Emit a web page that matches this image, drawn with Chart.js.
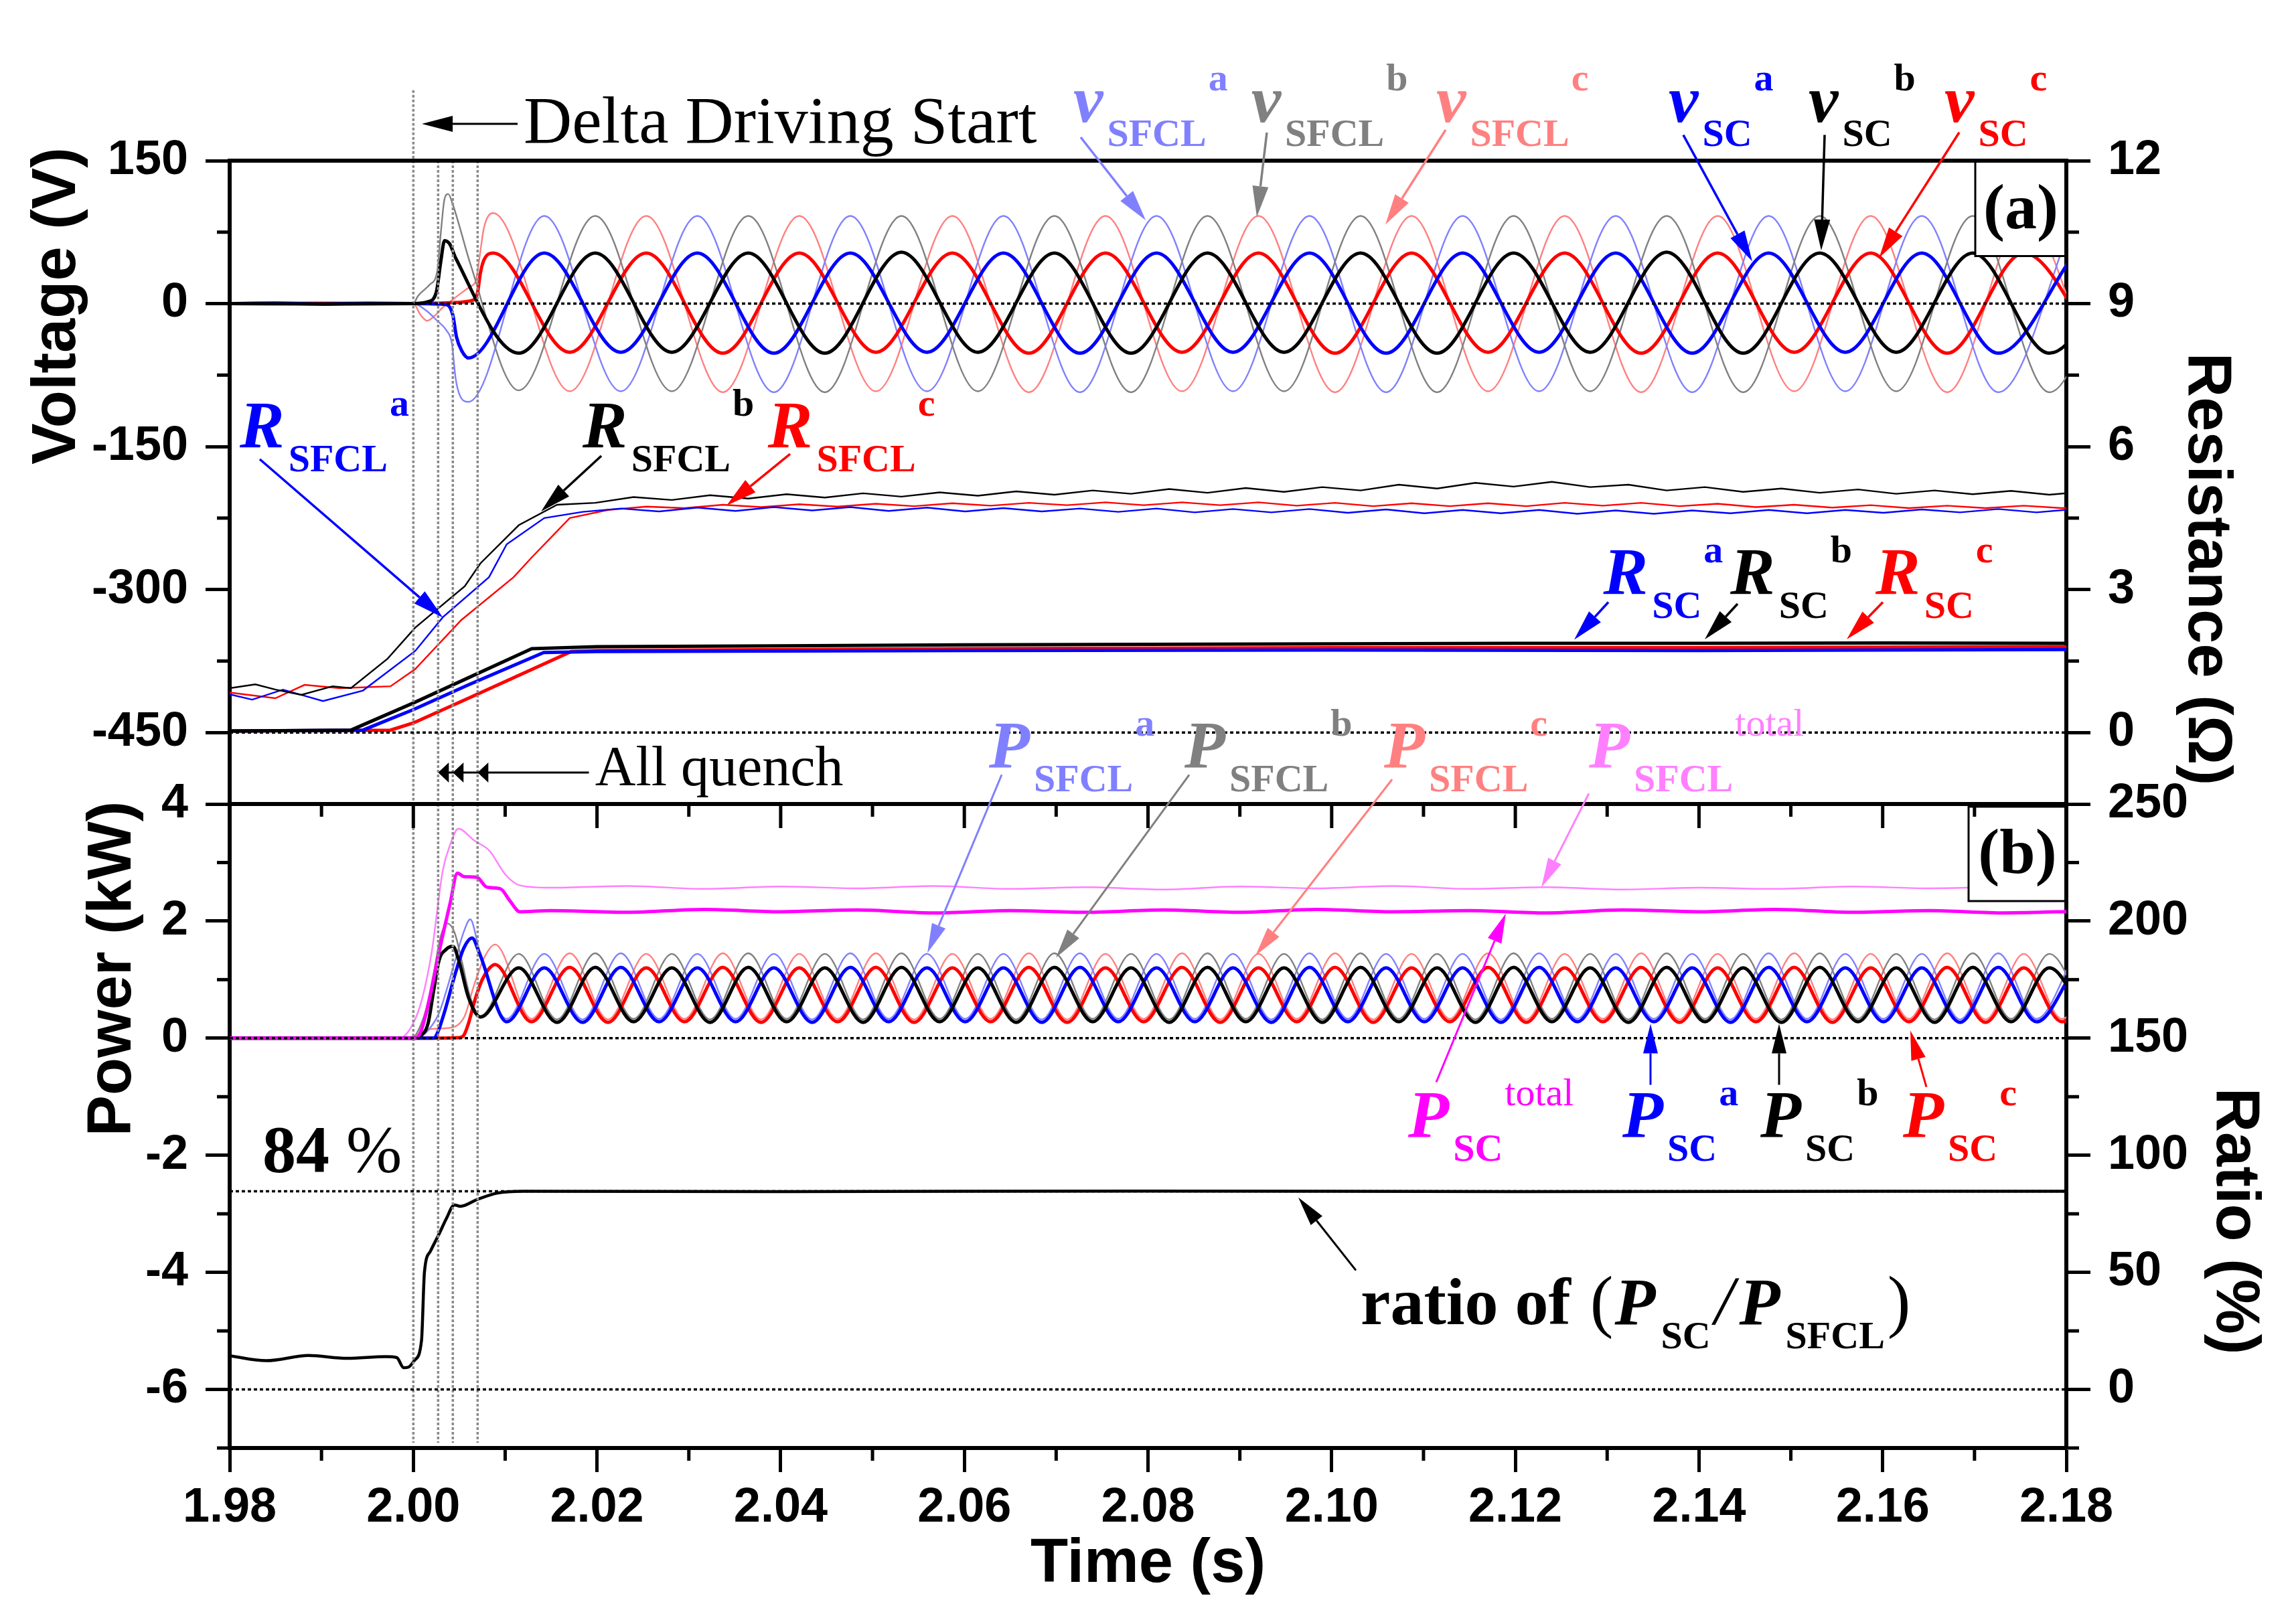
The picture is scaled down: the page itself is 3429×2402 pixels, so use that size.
<!DOCTYPE html>
<html>
<head>
<meta charset="utf-8">
<title>SFCL delta driving</title>
<script src="https://cdn.jsdelivr.net/npm/chart.js@4.4.1/dist/chart.umd.min.js"></script>
<style>
  html, body { margin: 0; padding: 0; background: #fff; }
  #wrap { position: relative; width: 3429px; height: 2402px; }
  canvas { position: absolute; left: 0; top: 0; }
</style>
</head>
<body>
<div id="wrap">
  <canvas id="chartA" width="3429" height="2402"></canvas>
  <canvas id="chartB" width="3429" height="2402"></canvas>
</div>
<script>
// ---------- axes ----------
const timeTicks = [1.98, 2.00, 2.02, 2.04, 2.06, 2.08, 2.10, 2.12, 2.14, 2.16, 2.18];
const timeMinor = [1.99, 2.01, 2.03, 2.05, 2.07, 2.09, 2.11, 2.13, 2.15, 2.17];
const voltTicks = [150, 0, -150, -300, -450];
const voltMinor = [75, -75, -225, -375];
const resTicks = [12, 9, 6, 3, 0];
const resMinor = [10.5, 7.5, 4.5, 1.5];
const powerTicks = [4, 2, 0, -2, -4, -6];
const powerMinor = [3, 1, -1, -3, -5, -7];
const ratioTicks = [250, 200, 150, 100, 50, 0];
const ratioMinor = [225, 175, 125, 75, 25, -25];

// driving start + quench instants (s), reference levels
const markerTimes = [2.0000, 2.0027, 2.0043, 2.0070];
const markerTopV = [224, 150, 150, 150];
const refTimes = [1.98, 2.18];
const voltRefs = [0, -450];
const powerRefs = [0, -6];
const ratioRef = 84.6;

// ---------- voltage (V): extremes, half a period apart ----------
const tVa = [2.00600, 2.01426, 2.02259, 2.03093, 2.03926, 2.04759, 2.05593, 2.06426, 2.07259, 2.08093, 2.08926,
             2.09759, 2.10593, 2.11426, 2.12259, 2.13093, 2.13926, 2.14759, 2.15593, 2.16426, 2.17259, 2.18093];
const tVb = [2.01148, 2.01981, 2.02815, 2.03648, 2.04481, 2.05315, 2.06148, 2.06981, 2.07815, 2.08648, 2.09481,
             2.10315, 2.11148, 2.11981, 2.12815, 2.13648, 2.14481, 2.15315, 2.16148, 2.16981, 2.17815, 2.18648];
const tVc = [2.00870, 2.01703, 2.02537, 2.03370, 2.04203, 2.05037, 2.05870, 2.06703, 2.07537, 2.08370, 2.09203,
             2.10037, 2.10870, 2.11703, 2.12537, 2.13370, 2.14203, 2.15037, 2.15870, 2.16703, 2.17537, 2.18370];
const vScA   = [-57, 53, -51, 53, -52, 53, -51, 53, -52, 53, -51, 53, -52, 53, -51, 53, -52, 53, -51, 53, -52, 53];
const vSfclA = [-103, 92, -92, 92, -93, 92, -92, 92, -93, 92, -92, 92, -93, 92, -92, 92, -93, 92, -92, 92, -93, 92];
const vScB   = [-52, 53, -51, 53, -52, 54, -51, 53, -52, 53, -51, 53, -52, 53, -51, 54, -52, 53, -51, 53, -52, 53];
const vSfclB = [-91, 92, -92, 92, -93, 92, -92, 92, -93, 92, -92, 92, -93, 92, -92, 92, -93, 92, -92, 92, -93, 92];
const vScC   = [53, -51, 53, -52, 53, -51, 53, -52, 53, -51, 53, -52, 53, -51, 53, -52, 53, -51, 53, -52, 53, -51];
const vSfclC = [95, -92, 92, -93, 92, -92, 92, -93, 92, -92, 92, -93, 92, -92, 92, -93, 92, -92, 92, -93, 92, -92];
// start-up part
const vScA0_t = [1.98, 1.985, 1.99, 1.995, 2.0, 2.0036, 2.0043, 2.0047, 2.0053];
const vScA0   = [0, 0.5, -0.4, 0.4, 0, -1, -12, -35, -50];
const vSfclA0_t = [1.98, 1.99, 2.0, 2.0015, 2.0026, 2.0036, 2.0042, 2.0046, 2.0051];
const vSfclA0   = [0, 0.6, 0, -8, -18, -28, -42, -78, -97];
const vScB0_t = [1.98, 1.99, 2.0, 2.0016, 2.0025, 2.0030, 2.0034, 2.0040, 2.0046];
const vScB0   = [0, -0.4, 0, 2, 12, 45, 66, 62, 48];
const vSfclB0_t = [1.98, 1.99, 2.0, 2.0005, 2.0018, 2.0026, 2.0030, 2.0034, 2.0038, 2.0043, 2.0050, 2.0062];
const vSfclB0   = [0, 0.6, 0, 8, 20, 34, 75, 110, 115, 104, 82, 42];
const vScC0_t = [1.98, 1.99, 2.0, 2.004, 2.0066, 2.0070, 2.0073, 2.0077];
const vScC0   = [0, 0.4, 0, 1, 4, 12, 32, 46];
const vSfclC0_t = [1.98, 1.99, 2.0, 2.0008, 2.0015, 2.0024, 2.0032, 2.0040, 2.0052, 2.0062, 2.0068, 2.0072, 2.0077];
const vSfclC0   = [0, -0.5, 0, -12, -18, -12, -4, 2, 11, 18, 24, 48, 80];

// ---------- power (kW): extremes, quarter of a period apart ----------
const tPa = [2.01017, 2.01426, 2.01843, 2.02259, 2.02676, 2.03093, 2.03509, 2.03926, 2.04343, 2.04759, 2.05176,
             2.05593, 2.06009, 2.06426, 2.06843, 2.07259, 2.07676, 2.08093, 2.08509, 2.08926, 2.09343, 2.09759,
             2.10176, 2.10593, 2.11009, 2.11426, 2.11843, 2.12259, 2.12676, 2.13093, 2.13509, 2.13926, 2.14343,
             2.14759, 2.15176, 2.15593, 2.16009, 2.16426, 2.16843, 2.17259, 2.17676, 2.18093];
const tPb = [2.00731, 2.01148, 2.01565, 2.01981, 2.02398, 2.02815, 2.03231, 2.03648, 2.04065, 2.04481, 2.04898,
             2.05315, 2.05731, 2.06148, 2.06565, 2.06981, 2.07398, 2.07815, 2.08231, 2.08648, 2.09065, 2.09481,
             2.09898, 2.10315, 2.10731, 2.11148, 2.11565, 2.11981, 2.12398, 2.12815, 2.13231, 2.13648, 2.14065,
             2.14481, 2.14898, 2.15315, 2.15731, 2.16148, 2.16565, 2.16981, 2.17398, 2.17815, 2.18231];
const tPc = [2.01287, 2.01703, 2.02120, 2.02537, 2.02953, 2.03370, 2.03787, 2.04203, 2.04620, 2.05037, 2.05453,
             2.05870, 2.06287, 2.06703, 2.07120, 2.07537, 2.07953, 2.08370, 2.08787, 2.09203, 2.09620, 2.10037,
             2.10453, 2.10870, 2.11287, 2.11703, 2.12120, 2.12537, 2.12953, 2.13370, 2.13787, 2.14203, 2.14620,
             2.15037, 2.15453, 2.15870, 2.16287, 2.16703, 2.17120, 2.17537, 2.17953, 2.18370];
const pScA = [0.28, 1.20, 0.27, 1.21, 0.28, 1.20, 0.28, 1.20, 0.27, 1.21, 0.28, 1.20, 0.28, 1.20, 0.27, 1.21, 0.28, 1.20,
              0.28, 1.20, 0.27, 1.21, 0.28, 1.20, 0.28, 1.20, 0.27, 1.21, 0.28, 1.20, 0.28, 1.20, 0.27, 1.21, 0.28, 1.20,
              0.28, 1.20, 0.27, 1.21, 0.28, 1.20];
const pSfclA = [0.33, 1.44, 0.32, 1.45, 0.33, 1.44, 0.33, 1.44, 0.32, 1.45, 0.33, 1.44, 0.33, 1.44, 0.32, 1.45, 0.33, 1.44,
                0.33, 1.44, 0.32, 1.45, 0.33, 1.44, 0.33, 1.44, 0.32, 1.45, 0.33, 1.44, 0.33, 1.44, 0.32, 1.45, 0.33, 1.44,
                0.33, 1.44, 0.32, 1.45, 0.33, 1.44];
const pScB = [0.36, 1.20, 0.27, 1.21, 0.28, 1.20, 0.27, 1.21, 0.28, 1.20, 0.27, 1.21, 0.28, 1.20, 0.27, 1.21, 0.28, 1.20,
              0.27, 1.21, 0.28, 1.20, 0.27, 1.21, 0.28, 1.20, 0.27, 1.21, 0.28, 1.20, 0.27, 1.21, 0.28, 1.20, 0.27, 1.21,
              0.28, 1.20, 0.27, 1.21, 0.28, 1.20, 0.27];
const pSfclB = [0.38, 1.44, 0.32, 1.45, 0.33, 1.44, 0.32, 1.45, 0.33, 1.44, 0.32, 1.45, 0.33, 1.44, 0.32, 1.45, 0.33, 1.44,
                0.32, 1.45, 0.33, 1.44, 0.32, 1.45, 0.33, 1.44, 0.32, 1.45, 0.33, 1.44, 0.32, 1.45, 0.33, 1.44, 0.32, 1.45,
                0.33, 1.44, 0.32, 1.45, 0.33, 1.44, 0.32];
const pScC = [0.28, 1.21, 0.27, 1.20, 0.28, 1.21, 0.27, 1.20, 0.28, 1.21, 0.27, 1.20, 0.28, 1.21, 0.27, 1.20, 0.28, 1.21,
              0.27, 1.20, 0.28, 1.21, 0.27, 1.20, 0.28, 1.21, 0.27, 1.20, 0.28, 1.21, 0.27, 1.20, 0.28, 1.21, 0.27, 1.20,
              0.28, 1.21, 0.27, 1.20, 0.28, 1.21];
const pSfclC = [0.33, 1.45, 0.32, 1.44, 0.33, 1.45, 0.32, 1.44, 0.33, 1.45, 0.32, 1.44, 0.33, 1.45, 0.32, 1.44, 0.33, 1.45,
                0.32, 1.44, 0.33, 1.45, 0.32, 1.44, 0.33, 1.45, 0.32, 1.44, 0.33, 1.45, 0.32, 1.44, 0.33, 1.45, 0.32, 1.44,
                0.33, 1.45, 0.32, 1.44, 0.33, 1.45];
const pScA0_t = [1.98, 2.0, 2.0022, 2.0026, 2.0034, 2.0046, 2.0055, 2.0064, 2.0072];
const pScA0   = [0, 0, 0, 0.08, 0.45, 1.12, 1.54, 1.71, 1.45];
const pSfclA0_t = [1.98, 2.0, 2.0010, 2.0017, 2.0028, 2.0044, 2.0055, 2.0062, 2.0072];
const pSfclA0   = [0, 0, 0.05, 0.15, 0.43, 1.24, 1.82, 2.03, 1.5];
const pScB0_t = [1.98, 2.0, 2.0008, 2.0016, 2.0022, 2.0028, 2.0036, 2.0043, 2.0050, 2.0060];
const pScB0   = [0, 0, 0.04, 0.25, 0.8, 1.33, 1.52, 1.57, 1.3, 0.7];
const pSfclB0_t = [1.98, 2.0, 2.0005, 2.0014, 2.0022, 2.0030, 2.0037, 2.0045, 2.0053, 2.0062];
const pSfclB0   = [0, 0.02, 0.12, 0.5, 1.1, 1.75, 1.96, 1.8, 1.3, 0.7];
const pScC0_t = [1.98, 2.0, 2.0050, 2.0055, 2.0060, 2.0067, 2.0075, 2.0082, 2.0089];
const pScC0   = [0, 0, 0.01, 0.05, 0.25, 0.65, 1.0, 1.18, 1.26];
const pSfclC0_t = [1.98, 2.0, 2.0006, 2.0015, 2.0035, 2.0048, 2.0056, 2.0066, 2.0078, 2.0089];
const pSfclC0   = [0, 0, 0.08, 0.15, 0.17, 0.22, 0.38, 0.9, 1.4, 1.6];

// totals
const tTot = [2.0150, 2.0233, 2.0317, 2.0400, 2.0483, 2.0567, 2.0650, 2.0733, 2.0817, 2.0900, 2.0983,
              2.1067, 2.1150, 2.1233, 2.1317, 2.1400, 2.1483, 2.1567, 2.1650, 2.1733, 2.1817];
const pScTot0_t = [1.98, 2.0003, 2.0009, 2.0018, 2.0028, 2.0040, 2.0048, 2.0055, 2.0069, 2.0080, 2.0095, 2.0105, 2.0116];
const pScTot0   = [0, 0, 0.15, 0.7, 1.47, 2.3, 2.82, 2.76, 2.75, 2.58, 2.55, 2.35, 2.16];
const pScTot = [2.18, 2.15, 2.20, 2.16, 2.19, 2.14, 2.18, 2.15, 2.19, 2.15, 2.20,
                2.16, 2.18, 2.14, 2.19, 2.16, 2.20, 2.15, 2.18, 2.14, 2.17];
const pSfclTot0_t = [1.98, 1.9985, 2.0001, 2.0010, 2.0020, 2.0032, 2.0040, 2.0049, 2.0066, 2.0083, 2.0100, 2.0116];
const pSfclTot0   = [0, 0, 0.29, 0.7, 1.47, 2.86, 3.3, 3.58, 3.38, 3.2, 2.8, 2.61];
const pSfclTot = [2.57, 2.60, 2.55, 2.59, 2.56, 2.60, 2.55, 2.58, 2.54, 2.59, 2.56,
                  2.60, 2.55, 2.58, 2.54, 2.57, 2.55, 2.59, 2.56, 2.58, 2.55];

// ratio P_SC / P_SFCL (%)
const ratioT = [1.98, 1.9840, 1.9886, 1.9928, 1.9970, 1.9982, 1.99894, 1.9995, 2.00014, 2.00089, 2.00121, 2.00186,
                2.00284, 2.0036, 2.00447, 2.00512, 2.0070, 2.0091, 2.0120, 2.0400, 2.0800, 2.1200, 2.1600, 2.1800];
const ratioV = [14.4, 12.3, 14.5, 13.3, 14.0, 13.6, 9.3, 9.6, 12.5, 20.8, 50.1, 59.0,
                66.7, 73.0, 78.8, 78.2, 81.2, 83.8, 84.6, 84.5, 84.7, 84.5, 84.6, 84.6];

// ---------- resistance (ohm) ----------
const rScA_t = [1.98, 1.9945, 2.0000, 2.0060, 2.0142, 2.0200, 2.0600, 2.1000, 2.1400, 2.1800];
const rScA   = [0.03, 0.05, 0.48, 1.00, 1.68, 1.70, 1.72, 1.73, 1.72, 1.74];
const rScB_t = [1.98, 1.9932, 2.0000, 2.0060, 2.0129, 2.0200, 2.0400, 2.0600, 2.0800, 2.1000, 2.1200, 2.1400, 2.1600, 2.1800];
const rScB   = [0.03, 0.05, 0.62, 1.15, 1.76, 1.80, 1.82, 1.84, 1.85, 1.86, 1.87, 1.87, 1.88, 1.87];
const rScC_t = [1.98, 1.9975, 2.0000, 2.0060, 2.0172, 2.0200, 2.0600, 2.1000, 2.1400, 2.1800];
const rScC   = [0.03, 0.05, 0.20, 0.72, 1.70, 1.72, 1.76, 1.78, 1.78, 1.80];
const rSfclA0_t = [1.98, 1.98246, 1.9858, 1.99016, 1.99451, 2.0002, 2.00322, 2.00824];
const rSfclA0   = [0.80, 0.69, 0.90, 0.66, 0.88, 1.71, 2.42, 3.26];
const rSfclA = [3.95, 4.50, 4.63, 4.70, 4.64, 4.72, 4.65, 4.73, 4.66, 4.73, 4.65, 4.72, 4.64, 4.71, 4.64, 4.70, 4.63, 4.70,
                4.62, 4.69, 4.62, 4.69, 4.61, 4.68, 4.60, 4.67, 4.60, 4.67, 4.59, 4.66, 4.59, 4.66, 4.60, 4.67, 4.60, 4.67,
                4.61, 4.68, 4.62, 4.69, 4.62, 4.69];
const rSfclB0_t = [1.98, 1.9828, 1.9850, 1.9878, 1.9912, 1.9932, 1.9972, 2.0002, 2.0056];
const rSfclB0   = [0.93, 1.01, 0.90, 0.79, 0.97, 0.93, 1.55, 2.20, 3.07];
const rSfclB = [3.55, 4.35, 4.78, 4.82, 4.94, 4.88, 4.98, 4.91, 5.00, 4.93, 5.02, 4.95, 5.04, 4.97, 5.06, 4.99, 5.08, 5.01,
                5.11, 5.03, 5.13, 5.05, 5.15, 5.08, 5.20, 5.12, 5.24, 5.16, 5.26, 5.15, 5.20, 5.08, 5.15, 5.05, 5.12, 5.03,
                5.10, 5.01, 5.08, 5.00, 5.07, 4.99, 5.06];
const rSfclC0_t = [1.98, 1.98497, 1.98815, 1.9920, 1.99752, 2.0002, 2.00522, 2.01092];
const rSfclC0   = [0.84, 0.72, 1.00, 0.93, 0.97, 1.33, 2.36, 3.26];
const rSfclC = [3.67, 4.50, 4.67, 4.74, 4.71, 4.78, 4.73, 4.79, 4.74, 4.80, 4.75, 4.81, 4.76, 4.82, 4.77, 4.83, 4.77, 4.83,
                4.77, 4.83, 4.76, 4.82, 4.75, 4.81, 4.75, 4.81, 4.75, 4.82, 4.76, 4.82, 4.75, 4.80, 4.73, 4.78, 4.72, 4.77,
                4.71, 4.76, 4.71, 4.76, 4.71, 4.76];

// ---------- styles ----------
const BLUE = '#0000ff', BLACK = '#000000', RED = '#ff0000', MAG = '#ff00ff';
const LBLUE = '#8080ff', GRAY = '#808080', LRED = '#ff8080', LMAG = '#ff80ff';
const THIN = 2.4, THICK = 5;
const SERIF = "'Liberation Serif', 'Times New Roman', serif";
const SANS = "'Liberation Sans', Arial, sans-serif";
const tickFont = { family: SANS, size: 72, weight: 'bold' };

function pts(ts, vs) { return ts.map((t, i) => ({ x: t, y: vs[i] })); }
function join(t0, v0, t1, v1) { return pts(t0, v0).concat(pts(t1, v1)); }

function trace(data, color, width, axis, order, smooth) {
  return { data, borderColor: color, borderWidth: width, yAxisID: axis, order,
    pointRadius: 0, fill: false, tension: 0, cubicInterpolationMode: smooth ? 'monotone' : 'default' };
}
function dotted(data, color, axis, dash, width) {
  return { data, borderColor: color, borderWidth: width, borderDash: dash, yAxisID: axis, order: 0,
    pointRadius: 0, fill: false, tension: 0, clip: false };
}

function yAxis(pos, min, max, ticks) {
  return {
    type: 'linear', position: pos, min, max,
    afterBuildTicks: s => { s.ticks = ticks.map(v => ({ value: v })); },
    afterFit: s => { s.width = 343; },
    ticks: { font: tickFont, color: '#000', padding: 26, autoSkip: false, callback: v => String(v) },
    grid: { drawOnChartArea: false, tickLength: 36, tickWidth: 5, tickColor: '#000' },
    border: { display: true, color: '#000', width: 6 }
  };
}

function seg(ctx, x1, y1, x2, y2) { ctx.beginPath(); ctx.moveTo(x1, y1); ctx.lineTo(x2, y2); ctx.stroke(); }

function arrow(ctx, x1, y1, x2, y2, color, lw, hl, hw) {
  const a = Math.atan2(y2 - y1, x2 - x1);
  const bx = x2 - hl * Math.cos(a), by = y2 - hl * Math.sin(a);
  ctx.strokeStyle = color; ctx.fillStyle = color; ctx.lineWidth = lw;
  seg(ctx, x1, y1, bx, by);
  ctx.beginPath();
  ctx.moveTo(x2, y2);
  ctx.lineTo(bx + hw * Math.sin(a), by - hw * Math.cos(a));
  ctx.lineTo(bx - hw * Math.sin(a), by + hw * Math.cos(a));
  ctx.closePath(); ctx.fill();
}

function label(ctx, x, y, l) {
  ctx.fillStyle = l.c;
  ctx.textAlign = 'left'; ctx.textBaseline = 'alphabetic';
  ctx.font = 'italic bold 100px ' + SERIF;
  ctx.fillText(l.m, x, y);
  let cx = x + ctx.measureText(l.m).width + 6;
  ctx.font = 'bold 58px ' + SERIF;
  ctx.fillText(l.sub, cx, y + 36);
  cx += ctx.measureText(l.sub).width + 3;
  ctx.font = (l.sup === 'total' ? '' : 'bold ') + '58px ' + SERIF;
  ctx.fillText(l.sup, cx, y - 47);
}

function rotText(ctx, text, x, y, ang) {
  ctx.save();
  ctx.translate(x, y); ctx.rotate(ang);
  ctx.fillStyle = '#000'; ctx.font = 'bold 92px ' + SANS;
  ctx.textAlign = 'center'; ctx.textBaseline = 'middle';
  ctx.fillText(text, 0, 0);
  ctx.restore();
}

function panelTag(ctx, text, x, y, w, h) {
  ctx.fillStyle = '#fff';
  ctx.fillRect(x, y, w, h);
  ctx.strokeStyle = '#000'; ctx.lineWidth = 3;
  ctx.strokeRect(x, y, w, h);
  ctx.fillStyle = '#000'; ctx.font = 'bold 96px ' + SERIF;
  ctx.textAlign = 'center'; ctx.textBaseline = 'middle';
  ctx.fillText(text, x + w / 2, y + h / 2 + 4);
}

// ---------- annotations ----------
const labelsA = [
  { m: 'v', sub: 'SFCL', sup: 'a', c: LBLUE, t: 2.07187, v: 190.8 },
  { m: 'v', sub: 'SFCL', sup: 'b', c: GRAY, t: 2.09124, v: 190.8 },
  { m: 'v', sub: 'SFCL', sup: 'c', c: LRED, t: 2.11139, v: 190.8 },
  { m: 'v', sub: 'SC', sup: 'a', c: BLUE, t: 2.13669, v: 190.8 },
  { m: 'v', sub: 'SC', sup: 'b', c: BLACK, t: 2.15193, v: 190.8 },
  { m: 'v', sub: 'SC', sup: 'c', c: RED, t: 2.16673, v: 190.8 },
  { m: 'R', sub: 'SFCL', sup: 'a', c: BLUE, t: 1.98109, v: -150.3 },
  { m: 'R', sub: 'SFCL', sup: 'b', c: BLACK, t: 2.01843, v: -150.3 },
  { m: 'R', sub: 'SFCL', sup: 'c', c: RED, t: 2.03860, v: -150.8 },
  { m: 'R', sub: 'SC', sup: 'a', c: BLUE, t: 2.12958, v: -304.1 },
  { m: 'R', sub: 'SC', sup: 'b', c: BLACK, t: 2.14340, v: -304.1 },
  { m: 'R', sub: 'SC', sup: 'c', c: RED, t: 2.15922, v: -304.1 }
];
const arrowsA = [
  [2.07267, 174.6, 2.07975, 87.5, LBLUE],
  [2.09294, 179.5, 2.09185, 91.0, GRAY],
  [2.11241, 182.3, 2.10585, 83.0, LRED],
  [2.13829, 177.0, 2.14580, 44.3, BLUE],
  [2.15368, 177.0, 2.15331, 55.9, BLACK],
  [2.16834, 179.7, 2.15962, 48.2, RED],
  [1.98328, -163.3, 2.00322, -329.3, BLUE],
  [2.02047, -159.7, 2.01391, -218.0, BLACK],
  [2.04103, -157.8, 2.03410, -211.9, RED],
  [2.13013, -313.2, 2.12641, -352.5, BLUE],
  [2.14420, -315.0, 2.14063, -352.2, BLACK],
  [2.16002, -313.2, 2.15609, -352.2, RED]
];
const labelsB = [
  { m: 'P', sub: 'SFCL', sup: 'a', c: LBLUE, t: 2.06268, v: 4.629 },
  { m: 'P', sub: 'SFCL', sup: 'b', c: GRAY, t: 2.08397, v: 4.629 },
  { m: 'P', sub: 'SFCL', sup: 'c', c: LRED, t: 2.10570, v: 4.629 },
  { m: 'P', sub: 'SFCL', sup: 'total', c: LMAG, t: 2.12801, v: 4.629 },
  { m: 'P', sub: 'SC', sup: 'total', c: MAG, t: 2.10833, v: -1.678 },
  { m: 'P', sub: 'SC', sup: 'a', c: BLUE, t: 2.13166, v: -1.678 },
  { m: 'P', sub: 'SC', sup: 'b', c: BLACK, t: 2.14668, v: -1.678 },
  { m: 'P', sub: 'SC', sup: 'c', c: RED, t: 2.16221, v: -1.678 }
];
const arrowsB = [
  [2.06407, 4.50, 2.05598, 1.456, LBLUE],
  [2.08449, 4.50, 2.06998, 1.376, GRAY],
  [2.10658, 4.42, 2.09170, 1.41, LRED],
  [2.12801, 4.18, 2.12284, 2.577, LMAG],
  [2.11139, -0.751, 2.11897, 2.13, MAG],
  [2.13472, -0.797, 2.13472, 0.244, BLUE],
  [2.14872, -0.797, 2.14872, 0.244, BLACK],
  [2.16476, -0.832, 2.16301, 0.13, RED],
  [2.10264, -3.966, 2.09637, -2.72, BLACK]
];

const annotA = {
  id: 'annotA',
  afterDraw(chart) {
    const { ctx, chartArea: a, scales: { x, yV, yR } } = chart;
    const px = t => x.getPixelForValue(t), pv = v => yV.getPixelForValue(v);
    ctx.save();
    ctx.lineCap = 'butt';

    panelTag(ctx, '(a)', a.right - 136, a.top + 1.5, 136, 141);

    ctx.strokeStyle = '#000'; ctx.lineWidth = 6;
    seg(ctx, a.left - 3, a.top, a.right + 3, a.top);
    seg(ctx, a.right, a.top, a.right, a.top + 150);
    ctx.lineWidth = 5;
    voltMinor.forEach(v => seg(ctx, a.left - 19, pv(v), a.left, pv(v)));
    resMinor.forEach(r => { const y = yR.getPixelForValue(r); seg(ctx, a.right, y, a.right + 19, y); });

    arrowsA.forEach(r => arrow(ctx, px(r[0]), pv(r[1]), px(r[2]), pv(r[3]), r[4], 3.5, 46, 12));
    labelsA.forEach(l => label(ctx, px(l.t), pv(l.v), l));

    // Delta Driving Start
    arrow(ctx, px(2.01135), pv(188.7), px(2.00093), pv(188.7), '#000', 3, 46, 12);
    ctx.fillStyle = '#000'; ctx.textAlign = 'left'; ctx.textBaseline = 'alphabetic';
    ctx.font = '100px ' + SERIF;
    ctx.fillText('Delta Driving Start', px(2.01201), pv(169.2));

    // All quench
    const yq = pv(-492);
    ctx.strokeStyle = '#000'; ctx.lineWidth = 3;
    seg(ctx, px(markerTimes[1]) + 10, yq, px(2.01912), yq);
    markerTimes.slice(1).forEach(t => arrow(ctx, px(t) + 16, yq, px(t), yq, '#000', 3, 16, 15));
    ctx.fillStyle = '#000'; ctx.font = '84px ' + SERIF;
    ctx.fillText('All quench', px(2.01979), pv(-505));

    rotText(ctx, 'Voltage (V)', 87, 457, -Math.PI / 2);
    rotText(ctx, 'Resistance (\u03A9)', 3294, 850, Math.PI / 2);
    ctx.restore();
  }
};

const annotB = {
  id: 'annotB',
  afterDraw(chart) {
    const { ctx, chartArea: a, scales: { x, yP, yRatio } } = chart;
    const px = t => x.getPixelForValue(t), pp = v => yP.getPixelForValue(v);
    ctx.save();
    ctx.lineCap = 'butt';

    panelTag(ctx, '(b)', a.right - 146, a.top + 4, 146, 141);

    ctx.strokeStyle = '#000'; ctx.lineWidth = 6;
    seg(ctx, a.left - 3, a.top, a.right + 3, a.top);
    seg(ctx, a.right, a.top, a.right, a.top + 150);
    ctx.lineWidth = 5;
    powerMinor.forEach(v => seg(ctx, a.left - 19, pp(v), a.left, pp(v)));
    ratioMinor.forEach(r => { const y = yRatio.getPixelForValue(r); seg(ctx, a.right, y, a.right + 19, y); });
    timeMinor.forEach(t => {
      seg(ctx, px(t), a.bottom, px(t), a.bottom + 19);
      seg(ctx, px(t), a.top, px(t), a.top + 19);
    });
    timeTicks.slice(1, -1).forEach(t => seg(ctx, px(t), a.top, px(t), a.top + 36));

    arrowsB.forEach(r => arrow(ctx, px(r[0]), pp(r[1]), px(r[2]), pp(r[3]), r[4], 3, 44, 11));
    labelsB.forEach(l => label(ctx, px(l.t), pp(l.v), l));

    // 84 %
    ctx.fillStyle = '#000'; ctx.textAlign = 'left'; ctx.textBaseline = 'alphabetic';
    let cx = px(1.98357);
    const y84 = pp(-2.272);
    ctx.font = 'bold 100px ' + SERIF; ctx.fillText('84', cx, y84);
    cx += ctx.measureText('84 ').width;
    ctx.font = '100px ' + SERIF; ctx.fillText('%', cx, y84);

    // ratio of (P_SC / P_SFCL)
    const yr = pp(-4.886);
    cx = px(2.10315);
    const put = (txt, font, dy, gap) => { ctx.font = font; ctx.fillText(txt, cx, yr + dy); cx += ctx.measureText(txt).width + gap; };
    put('ratio of ', 'bold 100px ' + SERIF, 0, 4);
    put('(', '104px ' + SERIF, 0, 2);
    put('P', 'italic bold 100px ' + SERIF, 0, 8);
    put('SC', 'bold 58px ' + SERIF, 36, 6);
    put('/', 'italic 104px ' + SERIF, 0, 8);
    put('P', 'italic bold 100px ' + SERIF, 0, 8);
    put('SFCL', 'bold 58px ' + SERIF, 36, 4);
    put(')', '104px ' + SERIF, 0, 0);

    rotText(ctx, 'Power (kW)', 170, 1447, -Math.PI / 2);
    rotText(ctx, 'Ratio (%)', 3336, 1824, Math.PI / 2);
    ctx.restore();
  }
};

// ---------- chart (a): voltages and resistances ----------
const dsA = [
  ...voltRefs.map(v => dotted(pts(refTimes, [v, v]), '#000', 'yV', [5, 4], 3.5)),
  ...markerTimes.map((t, i) => dotted(pts([t, t], [markerTopV[i], -525]), '#8c8c8c', 'yV', [4, 3], 3.5)),
  trace(join(vScB0_t, vScB0, tVb, vScB), BLACK, THICK, 'yV', 2, true),
  trace(join(vScA0_t, vScA0, tVa, vScA), BLUE, THICK, 'yV', 2, true),
  trace(join(vScC0_t, vScC0, tVc, vScC), RED, THICK, 'yV', 2, true),
  trace(join(vSfclB0_t, vSfclB0, tVb, vSfclB), GRAY, THIN, 'yV', 3, true),
  trace(join(vSfclA0_t, vSfclA0, tVa, vSfclA), LBLUE, THIN, 'yV', 3, true),
  trace(join(vSfclC0_t, vSfclC0, tVc, vSfclC), LRED, THIN, 'yV', 3, true),
  trace(pts(rScB_t, rScB), BLACK, THICK, 'yR', 2, false),
  trace(pts(rScA_t, rScA), BLUE, THICK, 'yR', 2, false),
  trace(pts(rScC_t, rScC), RED, THICK, 'yR', 2, false),
  trace(join(rSfclB0_t, rSfclB0, tPb, rSfclB), BLACK, THIN, 'yR', 3, false),
  trace(join(rSfclA0_t, rSfclA0, tPa, rSfclA), BLUE, THIN, 'yR', 3, false),
  trace(join(rSfclC0_t, rSfclC0, tPc, rSfclC), RED, THIN, 'yR', 3, false)
];

new Chart(document.getElementById('chartA'), {
  type: 'line',
  data: { datasets: dsA },
  options: {
    responsive: false, animation: false, devicePixelRatio: 1, events: [],
    layout: { padding: { top: 240, bottom: 1201, left: 0, right: 0 } },
    plugins: { legend: { display: false }, tooltip: { enabled: false } },
    scales: {
      x: { type: 'linear', min: 1.98, max: 2.18, display: false },
      yV: yAxis('left', -525, 150, voltTicks),
      yR: yAxis('right', -1.5, 12, resTicks)
    }
  },
  plugins: [annotA]
});

// ---------- chart (b): powers and ratio ----------
const dsB = [
  ...powerRefs.map(v => dotted(pts(refTimes, [v, v]), '#000', 'yP', [5, 4], 3.5)),
  dotted(pts(refTimes, [ratioRef, ratioRef]), '#000', 'yRatio', [5, 4], 3.5),
  ...markerTimes.map(t => dotted(pts([t, t], [4, -6.91]), '#8c8c8c', 'yP', [4, 3], 3.5)),
  trace(pts(ratioT, ratioV), BLACK, 4.5, 'yRatio', 1, true),
  trace(join(pScTot0_t, pScTot0, tTot, pScTot), MAG, THICK, 'yP', 2, true),
  trace(join(pScB0_t, pScB0, tPb, pScB), BLACK, THICK, 'yP', 2, true),
  trace(join(pScA0_t, pScA0, tPa, pScA), BLUE, THICK, 'yP', 2, true),
  trace(join(pScC0_t, pScC0, tPc, pScC), RED, THICK, 'yP', 2, true),
  trace(join(pSfclTot0_t, pSfclTot0, tTot, pSfclTot), LMAG, THIN, 'yP', 3, true),
  trace(join(pSfclB0_t, pSfclB0, tPb, pSfclB), GRAY, THIN, 'yP', 3, true),
  trace(join(pSfclA0_t, pSfclA0, tPa, pSfclA), LBLUE, THIN, 'yP', 3, true),
  trace(join(pSfclC0_t, pSfclC0, tPc, pSfclC), LRED, THIN, 'yP', 3, true)
];

new Chart(document.getElementById('chartB'), {
  type: 'line',
  data: { datasets: dsB },
  options: {
    responsive: false, animation: false, devicePixelRatio: 1, events: [],
    layout: { padding: { top: 1201, bottom: 0, left: 0, right: 0 } },
    plugins: { legend: { display: false }, tooltip: { enabled: false } },
    scales: {
      x: {
        type: 'linear', position: 'bottom', min: 1.98, max: 2.18,
        afterBuildTicks: s => { s.ticks = timeTicks.map(v => ({ value: v })); },
        afterFit: s => { s.height = 239; },
        ticks: { font: tickFont, color: '#000', padding: 11, maxRotation: 0, autoSkip: false, callback: v => v.toFixed(2) },
        grid: { drawOnChartArea: false, tickLength: 36, tickWidth: 5, tickColor: '#000' },
        border: { display: true, color: '#000', width: 6 },
        title: { display: true, text: 'Time (s)', color: '#000', font: { family: SANS, size: 92, weight: 'bold' }, padding: { top: 0, bottom: 9 } }
      },
      yP: yAxis('left', -7, 4, powerTicks),
      yRatio: yAxis('right', -25, 250, ratioTicks)
    }
  },
  plugins: [annotB]
});
</script>
</body>
</html>
